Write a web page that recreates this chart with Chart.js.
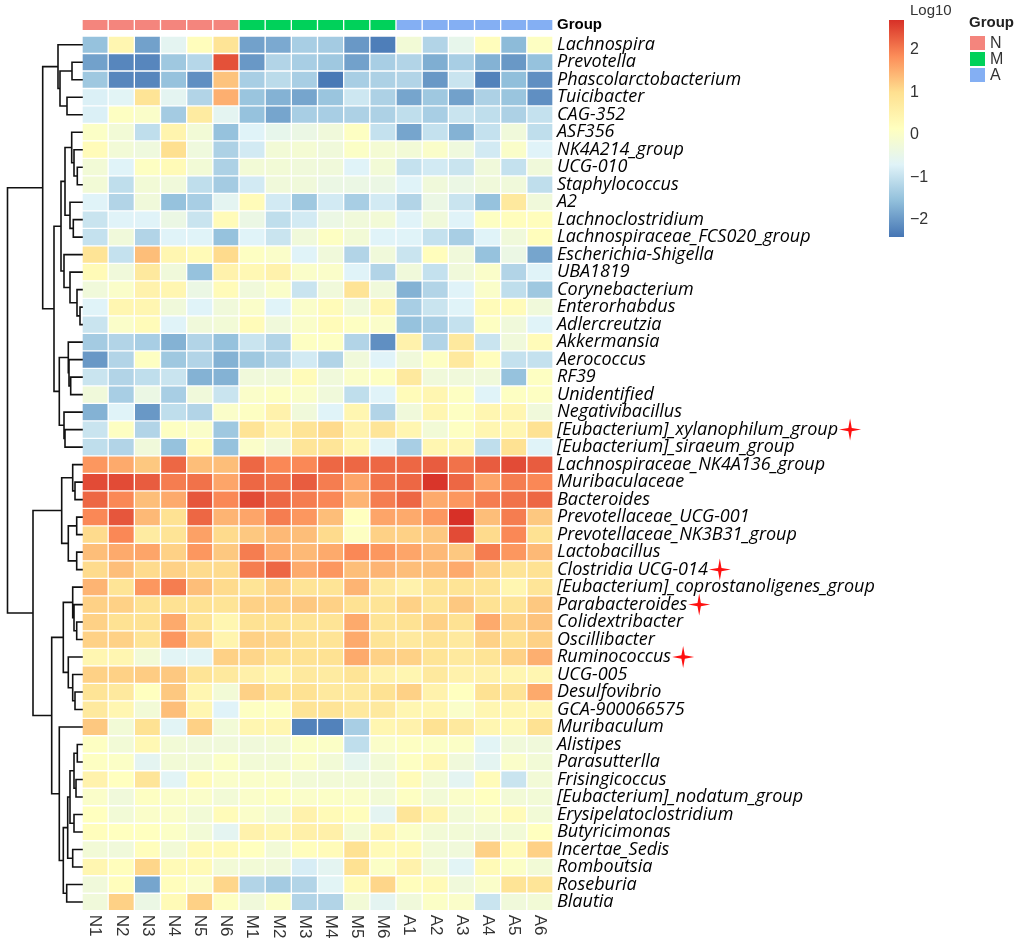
<!DOCTYPE html>
<html><head><meta charset="utf-8">
<script src="https://cdn.jsdelivr.net/npm/chart.js@4.4.1/dist/chart.umd.min.js"></script>
<style>html,body{margin:0;padding:0;background:#fff}#wrap{width:1024px;height:943px;position:relative}</style>
</head><body><div id="wrap"><canvas id="c"></canvas></div>
<script>
const samples = ['N1','N2','N3','N4','N5','N6','M1','M2','M3','M4','M5','M6','A1','A2','A3','A4','A5','A6'];
const sampleGroups = ['N','N','N','N','N','N','M','M','M','M','M','M','A','A','A','A','A','A'];
const groupNames = ['N','M','A'];
const groupColors = ['#F4857D','#00D15A','#84AFF3'];
const genera = ['Lachnospira','Prevotella','Phascolarctobacterium','Tuicibacter','CAG-352','ASF356','NK4A214_group','UCG-010','Staphylococcus','A2','Lachnoclostridium','Lachnospiraceae_FCS020_group','Escherichia-Shigella','UBA1819','Corynebacterium','Enterorhabdus','Adlercreutzia','Akkermansia','Aerococcus','RF39','Unidentified','Negativibacillus','[Eubacterium]_xylanophilum_group','[Eubacterium]_siraeum_group','Lachnospiraceae_NK4A136_group','Muribaculaceae','Bacteroides','Prevotellaceae_UCG-001','Prevotellaceae_NK3B31_group','Lactobacillus','Clostridia UCG-014','[Eubacterium]_coprostanoligenes_group','Parabacteroides','Colidextribacter','Oscillibacter','Ruminococcus','UCG-005','Desulfovibrio','GCA-900066575','Muribaculum','Alistipes','Parasutterlla','Frisingicoccus','[Eubacterium]_nodatum_group','Erysipelatoclostridium','Butyricimonas','Incertae_Sedis','Romboutsia','Roseburia','Blautia'];
const starredGenera = ['[Eubacterium]_xylanophilum_group','Clostridia UCG-014','Parabacteroides','Ruminococcus'];

// log10 values, one line per genus (same order as genera), columns N1..N6
const log10N = [
[-1.5,0.4,-1.9,-0.6,0.2,0.9],[-1.9,-2.2,-2.2,-1.4,-1.15,2.4],[-1.4,-2.2,-2.2,-1.5,-2.1,1.3],[-0.75,-0.65,0.9,-0.6,-1.2,1.5],[-0.75,0.1,0,-1.35,0.7,-0.6],
[0.05,-0.2,-1.05,0.45,-0.2,-1.5],[0.25,-0.2,-0.3,1.0,-0.3,-1.25],[-0.2,-0.7,0.1,0.3,-0.2,-1.25],[-0.2,-1.05,-0.2,-0.25,-1.05,-1.35],[-0.7,-1.2,-0.25,-1.5,-1.3,-0.6],
[-0.95,-0.7,-0.7,-0.4,-0.95,0.25],[-1.0,-0.25,-1.2,-0.7,-0.7,-1.5],[0.9,-1.0,1.35,0.4,0.3,1.05],[0.3,-0.25,0.75,-0.25,-1.5,0.5],[-0.25,0,0.5,0.4,-0.4,0.25],
[-0.7,0.4,0.4,-0.25,-0.7,-0.25],[-0.95,0,0.25,-0.7,-0.25,-0.2],[-1.35,-1.2,-1.3,-1.7,-1.2,-1.5],[-2.0,-1.2,0.1,-1.4,-1.2,-1.7],[-0.95,-1.2,-1.05,-0.95,-1.7,-1.7],
[-0.25,-1.3,-0.4,-1.3,-0.25,-0.95],[-1.7,-0.7,-2.0,-1.05,-1.2,0],[-0.95,0.1,-1.2,0.1,0,-1.4],[-1.05,-1.2,-0.25,-1.5,0.25,-1.5],[1.75,1.55,1.25,2.2,1.35,1.35],
[2.45,2.45,2.3,2.0,2.1,1.6],[2.2,1.9,1.35,1.55,2.35,1.9],[1.9,2.35,1.4,0.95,2.2,1.45],[1.05,1.9,0.7,0.9,1.65,1.05],[1.35,1.55,1.6,1.15,1.75,1.25],
[1.05,1.35,1.05,1.15,1.05,1.05],[1.45,0.9,1.75,2.0,1.35,1.05],[1.15,1.15,0.95,0.95,0.95,0.9],[1.15,0.95,0.95,1.55,0.9,0.4],[1.15,1.15,0.9,1.75,1.15,0.45],
[0.4,0.4,-0.2,-0.65,-0.65,1.15],[1.15,1.15,1.2,1.25,0.9,0.75],[0.9,0.75,0.15,1.25,0.4,-0.2],[0.75,0.4,-0.2,1.35,0.4,-0.7],[1.25,-0.2,0.95,-0.65,1.15,-0.2],
[0.1,-0.2,0.35,-0.2,-0.25,-0.25],[0.1,0.05,-0.6,-0.2,-0.2,0.05],[0.5,0.15,0.85,-0.65,0.25,0],[0,-0.25,0.1,0,0,-0.2],[0.15,-0.2,0,0,-0.2,0.25],
[0.2,0.15,0.15,0.05,-0.2,-0.6],[-0.2,-0.25,0.2,-0.2,0.3,0.3],[0.4,0.2,1.1,0.3,0.3,-0.2],[-0.25,0.2,-1.85,0.2,0,1.1],[-0.25,1.15,-0.4,0.3,1.15,0.1]
];
// columns M1..M6
const log10M = [
[-1.9,-1.8,-1.3,-1.35,-2.0,-2.3],[-2.0,-1.2,-1.3,-1.4,-1.9,-1.3],[-1.3,-1.1,-1.3,-2.35,-1.3,-1.25],[-1.45,-1.7,-1.85,-1.45,-0.9,-1.25],[-1.5,-1.85,-1.3,-1.3,-1.25,-1.25],
[-0.7,-0.5,-0.4,-0.25,0.1,-1.0],[-0.85,-0.2,-0.15,-0.25,0.05,-0.15],[-0.2,-0.2,-0.25,-0.25,-0.7,-0.2],[-0.85,-0.25,-0.25,-0.4,-0.4,-0.4],[0.25,-0.85,-1.4,-0.85,-1.3,-0.85],
[-0.4,-1.05,-0.85,-0.4,-0.25,-0.2],[-0.7,-0.95,-0.25,0.1,-0.2,-0.7],[0.1,0,-0.7,-0.25,-1.2,-0.25],[0.35,0.5,0,0,-0.7,-1.2],[-0.25,0,-0.95,-0.25,0.9,-0.25],
[0,-0.7,0,0.25,-0.25,0.4],[0.25,-0.25,0,0.25,0.1,0],[-0.95,-1.2,0.1,0.1,-1.2,-2.1],[-1.4,-1.2,-0.85,-1.2,-0.25,-0.7],[-0.25,-0.25,0.25,-0.25,0,0.1],
[0,0.1,0,-0.25,-1.05,-0.7],[0.1,0.5,-0.25,-0.7,0.4,-1.2],[0.9,0.5,0.9,1.05,0.5,0.85],[0,-0.25,0.85,0.85,0.4,-0.7],[2.2,1.9,1.9,2.2,2.2,2.2],
[2.2,2.1,2.3,2.0,1.6,2.1],[2.45,2.2,2.0,1.9,1.45,2.0],[1.6,2.0,1.75,1.35,0.15,1.6],[1.25,1.4,1.35,1.05,0.1,1.15],[2.0,1.55,1.4,1.55,1.9,1.75],
[2.0,2.2,1.55,1.75,1.35,1.45],[0.9,1.15,0.9,0.9,1.45,0.75],[1.15,1.15,1.25,1.15,0.95,0.9],[0.95,0.95,0.9,0.9,1.55,0.9],[1.15,1.1,0.95,0.9,1.55,0.9],
[1.1,0.95,0.95,0.95,1.55,1.15],[0.55,0.4,0.75,0.7,0.9,0.5],[1.15,0.95,0.95,0.75,0.75,0.95],[0.1,0.1,0.9,0.9,0.75,0.75],[0.4,0.4,-2.25,-2.25,-1.3,0.4],
[-0.25,-0.2,0.05,0.05,-1.05,0],[-0.2,-0.2,0,-0.2,-0.55,-0.2],[0,0,-0.2,-0.2,-0.2,-0.25],[0,0.1,0,0.05,0,-0.2],[0,-0.2,0.5,0.3,0.2,-0.6],
[0.5,0.4,0.55,0.55,-0.2,0.4],[0.15,-0.2,0.2,0.25,0.95,0.3],[-0.2,-0.25,-0.8,-0.6,0.95,0.05],[-1.2,-1.35,-1.2,-0.65,0.3,1.1],[-0.25,0.05,-1.2,-1.2,-0.2,-0.6]
];
// columns A1..A6
const log10A = [
[-0.2,-1.2,-0.5,0.2,-1.6,0.1],[-1.2,-1.75,-1.3,-1.7,-2.0,-1.5],[-1.2,-2.0,-0.95,-2.25,-1.55,-2.1],[-1.85,-1.4,-1.9,-1.25,-1.45,-2.1],[-1.05,-1.3,-0.95,-1.05,-1.25,-1.0],
[-1.85,-1.0,-1.7,-1.0,-0.25,-1.05],[-0.2,0,-0.3,-0.85,0,-0.7],[-1.0,-0.85,-0.95,-0.25,-1.0,-0.25],[-0.7,-0.25,-0.4,-0.25,-0.25,-1.05],[-1.2,-0.4,-0.95,-1.5,0.75,-0.25],
[-0.7,-0.25,-0.7,0.1,0.2,0.2],[-0.7,-1.0,-1.3,-0.7,-0.25,0.2],[-0.95,0.2,-0.25,-1.5,-0.4,-1.85],[-0.25,-1.0,-0.25,0,-1.2,-0.7],[-1.7,-1.2,-0.7,0,-1.05,-1.4],
[-1.3,-0.95,-0.7,0.25,0.25,-0.25],[-1.5,-1.3,-1.0,0.1,-0.25,-0.7],[0.5,-1.2,0.75,-0.95,-0.25,0.25],[-0.25,0.1,0.75,0.2,-1.0,-1.0],[0.75,-0.25,-0.25,-0.25,-1.5,0.1],
[0.25,0.4,0.1,-0.7,0.1,0.1],[-0.25,0.4,0.1,0.4,0.4,-0.25],[0.4,-0.2,0.1,0.4,0.4,0.95],[-1.3,0.4,0.4,-1.05,0.95,-0.7],[2.2,2.3,2.1,2.3,2.45,2.3],
[2.2,2.65,2.2,1.6,2.0,1.9],[2.2,1.55,1.75,2.0,2.1,2.2],[1.55,1.75,2.7,1.35,2.0,1.25],[1.15,1.25,2.45,1.05,1.9,0.95],[1.6,1.4,1.25,2.0,1.75,1.4],
[1.35,1.35,1.55,1.15,0.9,0.95],[0.5,0.9,0.9,0.9,0.4,0.85],[1.15,0.9,1.25,0.95,0.9,1.25],[0.95,1.15,0.95,1.55,1.15,1.3],[0.75,0.9,0.75,1.15,0.95,1.15],
[1.15,0.9,0.75,0.9,1.15,1.5],[0.4,0.75,0.5,0.5,0.4,0.4],[1.15,0.5,0.15,0.95,0.9,1.55],[0.4,0.4,0,0.4,0.4,0.4],[0.5,0.95,0.75,0.4,0.35,0.95],
[0.1,0.05,0.05,-0.65,-0.25,-0.25],[0.1,0.35,-0.25,-0.6,0,-0.2],[0.25,-0.2,-0.6,0.25,-0.95,-0.2],[0.1,-0.2,0,0.15,-0.2,-0.2],[0.85,0.45,-0.2,0,0.25,-0.2],
[0.05,-0.2,-0.2,-0.25,-0.2,0.15],[0.3,-0.2,-0.25,1.15,0.3,1.15],[0.5,-0.2,-0.65,0.3,0.05,-0.2],[0.2,0.3,-0.25,0,0.9,0.85],[-0.25,0.05,0,-0.95,-0.25,-0.2]
];

// colour scale (reversed RdYlBu) and its legend ticks
const colorMin = -2.4, colorMax = 2.7;
const paletteStops = ['#4575B4','#91BFDB','#E0F3F8','#FFFFBF','#FEE090','#FC8D59','#D73027'];
const colorTicks = [2, 1, 0, -1, -2];

// row dendrogram: [left, right, mergeHeight]; numbers are genus indices
const rowTree = [
  [ [0, [[1,2,10],[3,4,15],22], 24],
    [ [ [[5,[6,[7,8,4.7],8],10.3],[9,[10,11,8.7],12],17], [12,[13,[14,[15,16,2],5],12],18], 21 ],
      [ [17,[18,[19,20,11.3],13],13.7], [21,[22,23,17],18], 22.7 ], 28 ], 39.3 ],
  [ [ [24,[25,26,7],9.3], [[27,28,5.3],[29,30,5.3],13.7], 20.3 ],
    [ [ [31,[32,[33,34,5.3],8],9.3], [35,[36,[37,38,7],9.3],13.7], 18.7 ],
      [ 39, [ [ [ [[40,41,4.7],[42,43,6],8], [44,45,8], 12 ], [46,47,9.3], 14.3 ], [48,49,15.3], 18.7 ], 22.7 ], 30.3 ], 49 ],
  74.5 ];

const values = genera.map((g, i) => log10N[i].concat(log10M[i], log10A[i]));

function hexRgb(h){ return [parseInt(h.slice(1,3),16), parseInt(h.slice(3,5),16), parseInt(h.slice(5,7),16)]; }
function colorFor(v){
  let t = (v - colorMin) / (colorMax - colorMin);
  t = Math.max(0, Math.min(1, t));
  const seg = t * (paletteStops.length - 1);
  const k = Math.min(paletteStops.length - 2, Math.floor(seg));
  const f = seg - k;
  const a = hexRgb(paletteStops[k]), b = hexRgb(paletteStops[k+1]);
  return 'rgb(' + a.map((c, j) => Math.round(c + (b[j]-c)*f)).join(',') + ')';
}

const cellDefaults = { borderColor: '#ffffff', borderWidth: 1, borderSkipped: false, grouped: false, barPercentage: 1, categoryPercentage: 1 };
const datasets = genera.map((g, i) => Object.assign({
  label: g,
  data: samples.map(() => [i, i + 1]),
  backgroundColor: values[i].map(colorFor)
}, cellDefaults));
datasets.push(Object.assign({
  label: 'Group',
  data: samples.map(() => [-0.95, -0.3]),
  backgroundColor: sampleGroups.map(g => groupColors[groupNames.indexOf(g)])
}, cellDefaults));

const labelFont = { family: 'Open Sans', size: 18, style: 'italic' };
const groupFont = { family: 'Liberation Sans', size: 15, weight: 'bold' };

const decorations = {
  id: 'decorations',
  afterDraw(chart) {
    const ctx = chart.ctx, area = chart.chartArea;
    const xs = chart.scales.x, ys = chart.scales.y;
    ctx.save();
    // dendrogram
    const treeMax = rowTree[2];
    const hx = h => area.left - h * (area.left - 7.5) / treeMax;
    ctx.strokeStyle = '#111'; ctx.lineWidth = 1.6; ctx.lineCap = 'square';
    ctx.beginPath();
    function walk(node){
      if (typeof node === 'number') return { y: ys.getPixelForValue(node + 0.5), h: 0 };
      const a = walk(node[0]), b = walk(node[1]);
      const x = hx(node[2]);
      ctx.moveTo(hx(a.h), a.y); ctx.lineTo(x, a.y); ctx.lineTo(x, b.y); ctx.lineTo(hx(b.h), b.y);
      return { y: (a.y + b.y) / 2, h: node[2] };
    }
    walk(rowTree);
    ctx.stroke();

    // sample labels (rotated clockwise)
    ctx.fillStyle = '#333';
    ctx.font = '17px "Liberation Sans"';
    ctx.textAlign = 'left'; ctx.textBaseline = 'middle';
    samples.forEach((s, i) => {
      ctx.save();
      ctx.translate(xs.getPixelForValue(i), area.bottom + 4);
      ctx.rotate(Math.PI / 2);
      ctx.fillText(s, 0, 0);
      ctx.restore();
    });

    // red stars
    ctx.font = 'italic 18px "Open Sans"';
    ctx.fillStyle = '#ff1010';
    starredGenera.forEach(g => {
      const i = genera.indexOf(g);
      const w = ctx.measureText(g).width;
      const cx = area.right + 4 + w + 12, cy = ys.getPixelForValue(i + 0.5);
      ctx.beginPath();
      for (let k = 0; k < 8; k++) {
        const ang = -Math.PI / 2 + k * Math.PI / 4;
        const r = k % 2 === 0 ? 11 : 2.4;
        ctx.lineTo(cx + r * Math.cos(ang), cy + r * Math.sin(ang));
      }
      ctx.closePath(); ctx.fill();
    });

    // colour bar legend
    const barX = 889, barW = 15, barTop = 20, barBottom = 237;
    const grad = ctx.createLinearGradient(0, barBottom, 0, barTop);
    paletteStops.forEach((c, k) => grad.addColorStop(k / (paletteStops.length - 1), c));
    ctx.fillStyle = grad;
    ctx.fillRect(barX, barTop, barW, barBottom - barTop);
    const vy = v => barBottom - (v - colorMin) / (colorMax - colorMin) * (barBottom - barTop);
    ctx.fillStyle = '#333';
    ctx.font = '15px "Liberation Sans"';
    ctx.textAlign = 'left'; ctx.textBaseline = 'middle';
    ctx.fillText('Log10', 910, 11);
    ctx.font = '16px "Liberation Sans"';
    colorTicks.forEach(t => ctx.fillText(t < 0 ? '\u2212' + Math.abs(t) : String(t), 910, vy(t)));

    // group legend
    ctx.fillStyle = '#222';
    ctx.font = 'bold 15px "Liberation Sans"';
    ctx.fillText('Group', 969, 23);
    ctx.font = '16px "Liberation Sans"';
    groupNames.forEach((g, k) => {
      const top = 36 + k * 16;
      ctx.fillStyle = groupColors[k];
      ctx.fillRect(970, top, 15, 14);
      ctx.fillStyle = '#333';
      ctx.fillText(g, 990, top + 7.5);
    });
    ctx.restore();
  }
};

new Chart(document.getElementById('c'), {
  type: 'bar',
  data: { labels: samples, datasets },
  options: {
    responsive: true, maintainAspectRatio: false, animation: false,
    layout: { padding: { left: 82, top: 19.35, right: 0, bottom: 32.25 } },
    plugins: { legend: { display: false }, tooltip: { enabled: false } },
    scales: {
      x: { type: 'category', display: false },
      y: {
        type: 'linear', position: 'right', reverse: true, min: -0.95, max: 50,
        grid: { display: false, drawTicks: false, tickLength: 0 }, border: { display: false },
        afterBuildTicks: s => { s.ticks = [{ value: -0.625 }].concat(genera.map((g, i) => ({ value: i + 0.5 }))); },
        afterFit: s => { s.width = 471; },
        ticks: {
          autoSkip: false, padding: 4, color: '#000',
          callback: (v, i) => i === 0 ? 'Group' : genera[i - 1],
          font: c => c.index === 0 ? groupFont : labelFont
        }
      }
    }
  },
  plugins: [decorations]
});
</script>
</body></html>
